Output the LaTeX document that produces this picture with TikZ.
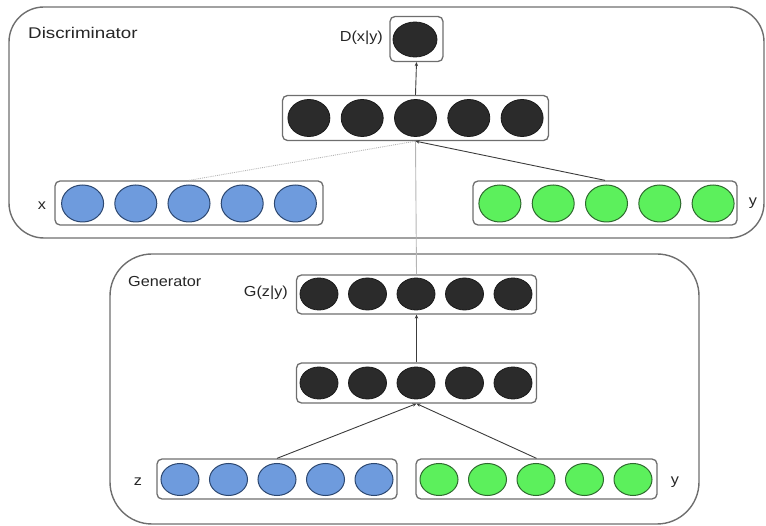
\documentclass[tikz,border=0pt]{standalone}
\usepackage{fontspec}
\setmainfont{Liberation Sans}
\usetikzlibrary{arrows.meta}
\definecolor{cblack}{HTML}{2B2B2B}
\definecolor{cblackline}{HTML}{1A1A1A}
\definecolor{cblue}{HTML}{6E9BDD}
\definecolor{cblueline}{HTML}{2C4770}
\definecolor{cgreen}{HTML}{5CF05C}
\definecolor{cgreenline}{HTML}{2E6A2E}
\definecolor{boxline}{HTML}{6E6E6E}
\definecolor{conn}{HTML}{3C3C3C}
\definecolor{faint}{HTML}{B5B5B5}
\definecolor{txt}{HTML}{262626}
\tikzset{
  outerbox/.style={draw=boxline, line width=1.4pt, rounded corners=#1},
  rowbox/.style={draw=boxline, line width=1.3pt, rounded corners=5pt, fill=white, inner sep=0pt},
  lbl/.style={font=\fontsize{14.5}{16}\selectfont, text=txt, xscale=1.12, inner sep=0pt},
  arr/.style={draw=conn, line width=0.9pt, -{Stealth[length=4pt,width=3.5pt]}},
  faintline/.style={draw=faint, line width=0.9pt},
  bk/.style={fill=cblack, draw=cblackline, line width=0.8pt},
  bl/.style={fill=cblue, draw=cblueline, line width=1pt},
  gr/.style={fill=cgreen, draw=cgreenline, line width=1pt}
}
\begin{document}
\begin{tikzpicture}[x=1pt,y=-1pt]
\useasboundingbox (0,0) rectangle (766,526);
% outer boxes
\draw[outerbox=35pt] (9,7) rectangle (764,238);
\draw[outerbox=42pt] (110,254) rectangle (699,524);
\node[lbl, anchor=west, font=\fontsize{15.5}{17}\selectfont, xscale=1.08] (tdisc) at (28,33) {Discriminator};
\node[lbl, anchor=west] (tgen) at (128,282) {Generator};
% discriminator rows
\node[rowbox, minimum width=53pt, minimum height=45pt] (dout) at (416.5,39) {};
\node[rowbox, minimum width=266pt, minimum height=45pt] (dh) at (415.5,118) {};
\node[rowbox, minimum width=268pt, minimum height=44pt] (xr) at (189,203) {};
\node[rowbox, minimum width=264pt, minimum height=44pt] (yd) at (605,203) {};
% generator rows
\node[rowbox, minimum width=240pt, minimum height=39pt] (gout) at (416.5,294.5) {};
\node[rowbox, minimum width=240pt, minimum height=40pt] (gh) at (416.5,383) {};
\node[rowbox, minimum width=240pt, minimum height=40pt] (zr) at (277,479) {};
\node[rowbox, minimum width=241pt, minimum height=40pt] (yg) at (536.5,479) {};
% circles
\draw[bk] (415,39.5) ellipse [x radius=22pt, y radius=17.5pt];
\foreach \i in {-2,...,2} {
  \draw[bk] (415.5+53.3*\i,118) ellipse [x radius=21pt, y radius=18.5pt];
  \draw[bl] (189+53.2*\i,203.5) ellipse [x radius=21pt, y radius=18.5pt];
  \draw[gr] (606.5+53.3*\i,203.5) ellipse [x radius=21pt, y radius=18.5pt];
  \draw[bk] (416+48.5*\i,294) ellipse [x radius=19pt, y radius=16pt];
  \draw[bk] (416+48.5*\i,383) ellipse [x radius=19pt, y radius=16pt];
  \draw[bl] (277+48.5*\i,479.5) ellipse [x radius=19pt, y radius=16pt];
  \draw[gr] (536+48.5*\i,479.5) ellipse [x radius=19pt, y radius=16pt];
}
% labels
\node[lbl, anchor=east] (ldout) at (383,38) {D(x|y)};
\node[lbl, anchor=east] (lgout) at (288,293) {G(z|y)};
\node[lbl] (lx) at (42,206) {x};
\node[lbl] (lyd) at (753,203) {y};
\node[lbl] (lz) at (138,482) {z};
\node[lbl] (lyg) at (675,482) {y};
% connectors
\draw[faintline, densely dotted] (xr.north) -- (dh.south);
\draw[faintline] (gout.north) -- (dh.south);
\draw[arr] (yd.north) -- (dh.south);
\draw[arr] (dh.north) -- (dout.south);
\draw[arr] (gh.north) -- (gout.south);
\draw[arr] (zr.north) -- (gh.south);
\draw[arr] (yg.north) -- (gh.south);
\end{tikzpicture}
\end{document}
